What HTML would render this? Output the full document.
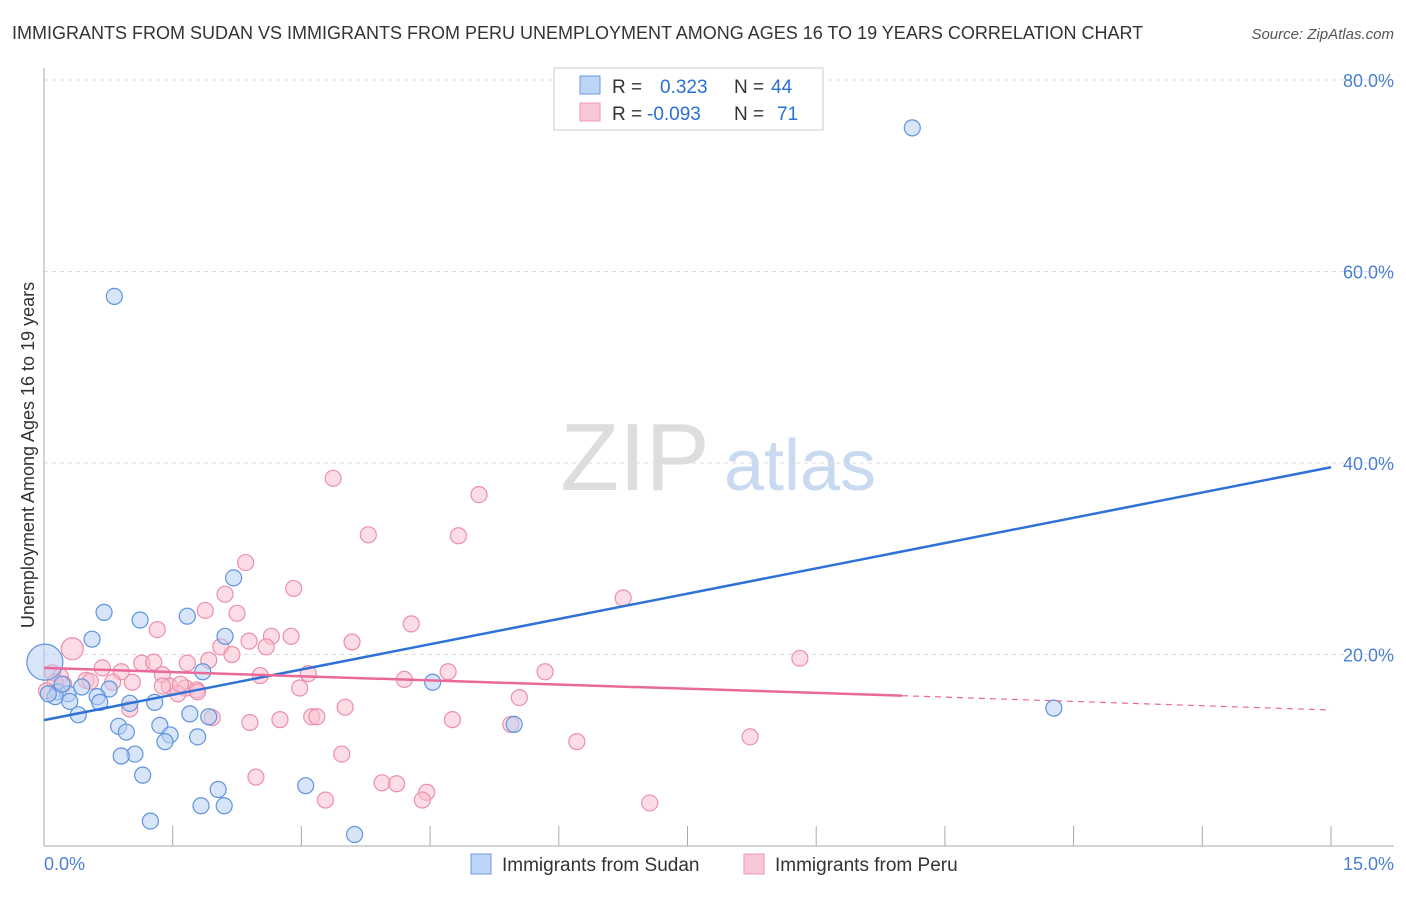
<!DOCTYPE html>
<html><head><meta charset="utf-8"><style>
body{margin:0;background:#fff;font-family:"Liberation Sans",sans-serif}
svg text{font-family:"Liberation Sans",sans-serif}
</style></head><body>
<svg width="1406" height="892" viewBox="0 0 1406 892">
<text x="12" y="39" font-size="18" fill="#333">IMMIGRANTS FROM SUDAN VS IMMIGRANTS FROM PERU UNEMPLOYMENT AMONG AGES 16 TO 19 YEARS CORRELATION CHART</text>
<text x="1394" y="39" font-size="15" fill="#555" text-anchor="end" font-style="italic">Source: ZipAtlas.com</text>
<g><text x="635" y="490" font-size="96" fill="#ddd" text-anchor="middle" font-family="Liberation Serif">ZIP</text><text x="800" y="490" font-size="72" fill="#c9daf0" text-anchor="middle">atlas</text></g>
<g id="grid"></g><g id="axes"></g><g id="pts"></g><g id="lines"></g>
<text transform="translate(34,455) rotate(-90)" font-size="18" fill="#333" text-anchor="middle">Unemployment Among Ages 16 to 19 years</text>
<text x="44" y="870" font-size="18" fill="#4a7fd4">0.0%</text>
<text x="1394" y="870" font-size="18" fill="#4a7fd4" text-anchor="end">15.0%</text>
<g>
<rect x="554" y="68" width="269" height="62" fill="#fff" stroke="#ccc"/>
<rect x="580" y="76" width="20" height="18" fill="#bcd4f5" stroke="#6b9be0"/>
<rect x="580" y="103" width="20" height="18" fill="#f9c8d6" stroke="#ec9ab2"/>
<text x="612" y="93" font-size="19" fill="#333">R =</text><text x="660" y="93" font-size="19" fill="#2a6fd6">0.323</text>
<text x="734" y="93" font-size="19" fill="#333">N =</text><text x="771" y="93" font-size="19" fill="#2a6fd6">44</text>
<text x="612" y="120" font-size="19" fill="#333">R =</text><text x="647" y="120" font-size="19" fill="#2a6fd6">-0.093</text>
<text x="734" y="120" font-size="19" fill="#333">N =</text><text x="777" y="120" font-size="19" fill="#2a6fd6">71</text>
</g>
<g>
<rect x="471" y="854" width="20" height="20" fill="#bcd4f5" stroke="#6b9be0"/>
<text x="502" y="871" font-size="19" fill="#333">Immigrants from Sudan</text>
<rect x="744" y="854" width="20" height="20" fill="#f9c8d6" stroke="#ec9ab2"/>
<text x="775" y="871" font-size="19" fill="#333">Immigrants from Peru</text>
</g>
</svg>
<script>
const yTicks=[20,40,60,80];
const yTickLabels=["20.0%","40.0%","60.0%","80.0%"];
const sudanX=[10.12,0.82,2.21,0.70,1.12,1.67,0.56,2.11,1.85,4.53,0.76,0.16,0.28,0.13,0.62,0.30,0.65,1.00,1.29,0.40,1.70,1.92,0.87,1.35,0.96,1.47,1.79,1.41,1.06,0.90,1.15,3.05,2.03,1.83,2.10,1.24,3.62,5.48,11.77,0.01,0.21,0.05,0.44];
const sudanY=[75.0,57.4,28.0,24.4,23.6,24.0,21.6,21.9,18.2,17.1,16.4,16.1,15.9,15.6,15.6,15.1,15.0,14.9,15.0,13.7,13.8,13.5,12.5,12.6,11.9,11.6,11.4,10.9,9.6,9.4,7.4,6.3,5.9,4.2,4.2,2.6,1.2,12.7,14.4,19.2,16.9,15.9,16.6];
const sudanR=[8,8,8,8,8,8,8,8,8,8,8,8,8,8,8,8,8,8,8,8,8,8,8,8,8,8,8,8,8,8,8,8,8,8,8,8,8,8,8,18,8,8,8];
const peruX=[3.37,5.07,3.78,4.83,2.35,2.91,6.75,2.11,1.88,2.25,4.28,1.32,2.65,2.88,3.59,2.39,2.06,0.33,2.59,2.19,1.92,8.81,1.14,1.28,1.67,0.90,0.68,1.38,2.52,3.08,4.71,5.84,4.20,0.10,0.19,0.49,0.80,1.03,1.46,1.65,1.78,1.56,1.79,2.98,5.54,0.23,0.54,1.00,2.40,2.75,3.12,3.18,3.51,4.76,5.44,3.47,6.21,8.23,2.47,3.94,4.11,4.46,4.41,3.28,7.06,1.96,1.38,1.59,0.13,0.03];
const peruY=[38.4,36.7,32.5,32.4,29.6,26.9,25.9,26.3,24.6,24.3,23.2,22.6,21.9,21.9,21.3,21.4,20.8,20.6,20.8,20.0,19.4,19.6,19.1,19.2,19.1,18.2,18.6,17.9,17.8,18.0,18.2,18.2,17.4,18.1,17.7,17.3,17.1,17.1,16.7,16.5,16.3,15.9,16.1,16.5,15.5,16.9,17.2,14.3,12.9,13.2,13.5,13.5,14.5,13.2,12.7,9.6,10.9,11.4,7.2,6.6,6.5,5.6,4.8,4.8,4.5,13.4,16.7,16.9,17.1,16.2];
const peruR=peruX.map((_,i)=>i===17?11:8);
const sudanTrend=[[0,13.15],[15,39.56]];
const peruTrend=[[0,18.6],[10.0,15.7],[15,14.2]];
const X0=44,X1=1331,Y0=846,Y80=80;
const sx=v=>X0+(X1-X0)*v/15, sy=v=>Y0-(Y0-Y80)*v/80;
const NS="http://www.w3.org/2000/svg";
function mk(t,a,p){const e=document.createElementNS(NS,t);for(const k in a)e.setAttribute(k,a[k]);p.appendChild(e);return e;}
const grid=document.getElementById('grid'),axes=document.getElementById('axes'),pts=document.getElementById('pts'),lines=document.getElementById('lines');
yTicks.forEach((t,i)=>{
 const g=mk('line',{x1:X0,x2:1394,y1:sy(t),y2:sy(t),stroke:'#ddd','stroke-dasharray':'4,4'},grid);
 
 
 const l=mk('text',{x:1394,y:sy(t)+7,'font-size':18,fill:'#4a7fd4','text-anchor':'end'},grid);
 l.textContent=yTickLabels[i];
 
 
});
const ya=mk('line',{x1:X0,x2:X0,y1:68,y2:Y0,stroke:'#aaa'},axes);


const xa=mk('line',{x1:X0,x2:1394,y1:Y0,y2:Y0,stroke:'#aaa'},axes);


for(let i=1;i<=10;i++){
 const t=mk('line',{x1:sx(i*1.5),x2:sx(i*1.5),y1:826,y2:Y0,stroke:'#aaa'},axes);
 
 
}
function dots(xs,ys,rs,fill,stroke,name){xs.forEach((x,i)=>{
 const c=mk('circle',{cx:sx(x),cy:sy(ys[i]),r:rs[i],fill:fill,'fill-opacity':0.55,stroke:stroke,'stroke-width':1.2},pts);
 
 
});}
dots(peruX,peruY,peruR,'#f9c0d0','#ec8fab','peru-point');
dots(sudanX,sudanY,sudanR,'#b8d0f3','#5d93e0','sudan-point');
const bl=mk('line',{x1:sx(sudanTrend[0][0]),y1:sy(sudanTrend[0][1]),x2:sx(sudanTrend[1][0]),y2:sy(sudanTrend[1][1]),stroke:'#2f72d6','stroke-width':2.5},lines);


const pl=mk('line',{x1:sx(peruTrend[0][0]),y1:sy(peruTrend[0][1]),x2:sx(peruTrend[1][0]),y2:sy(peruTrend[1][1]),stroke:'#e8699a','stroke-width':2.5},lines);


const pd=mk('line',{x1:sx(peruTrend[1][0]),y1:sy(peruTrend[1][1]),x2:sx(peruTrend[2][0]),y2:sy(peruTrend[2][1]),stroke:'#e8699a','stroke-width':1.2,'stroke-dasharray':'6,5'},lines);


</script>
</body></html>
